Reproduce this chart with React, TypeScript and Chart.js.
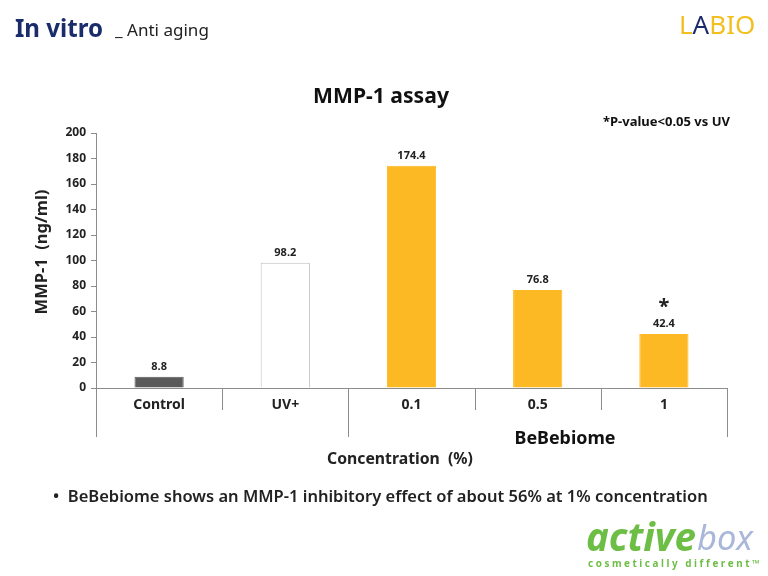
import React, { useEffect, useRef } from "react";
import { Chart, registerables } from "chart.js";

Chart.register(...registerables);

const categories = ["Control", "UV+", "0.1", "0.5", "1"];
const values = [8.8, 98.2, 174.4, 76.8, 42.4];
const valueLabels = ["8.8", "98.2", "174.4", "76.8", "42.4"];
const significant = [false, false, false, false, true];
const barColors = ["#5A5A5A", "#FFFFFF", "#FDB924", "#FDB924", "#FDB924"];
const barBorders = ["#5A5A5A", "#BFBFBF", "#FDB924", "#FDB924", "#FDB924"];
const yMin = 0;
const yMax = 200;
const yStep = 20;
const groupLabel = "BeBebiome";
const groupStart = 2;

const FONT = "'Noto Sans', 'Open Sans', sans-serif";

function fitText(
  ctx: CanvasRenderingContext2D,
  text: string,
  x: number,
  y: number,
  width: number,
  weight: string,
  maxSize: number,
  color: string,
  align: CanvasTextAlign = "left",
  family: string = FONT,
  style: string = ""
) {
  let size = maxSize;
  ctx.font = `${style} ${weight} ${size}px ${family}`;
  const w = ctx.measureText(text).width;
  if (w > 0) size = Math.min(maxSize * 1.3, (size * width) / w);
  ctx.font = `${style} ${weight} ${size}px ${family}`;
  ctx.fillStyle = color;
  ctx.textAlign = align;
  ctx.textBaseline = "middle";
  ctx.fillText(text, x, y);
  return ctx.measureText(text).width;
}

const overlay = {
  id: "overlay",
  beforeDraw(chart: any) {
    const ctx = chart.ctx;
    ctx.save();
    ctx.fillStyle = "#FFFFFF";
    ctx.fillRect(0, 0, chart.width, chart.height);
    ctx.restore();
  },
  afterDraw(chart: any) {
    const ctx: CanvasRenderingContext2D = chart.ctx;
    const xs = chart.scales.x;
    const ys = chart.scales.y;
    const n = categories.length;
    const cw = (xs.right - xs.left) / n;
    ctx.save();

    // category dividers
    ctx.strokeStyle = "#8C8C8C";
    ctx.lineWidth = 1;
    for (let i = 0; i <= n; i++) {
      const bx = Math.round(xs.left + i * cw) + 0.5;
      const long = i === 0 || i === n || i === groupStart;
      ctx.beginPath();
      ctx.moveTo(bx, ys.bottom);
      ctx.lineTo(bx, ys.bottom + (long ? 49 : 22));
      ctx.stroke();
    }

    // value labels
    values.forEach((v, i) => {
      const cx = xs.getPixelForValue(i);
      const top = ys.getPixelForValue(v);
      ctx.font = `bold 11px ${FONT}`;
      ctx.fillStyle = "#222";
      ctx.textAlign = "center";
      ctx.textBaseline = "middle";
      ctx.fillText(valueLabels[i], cx, top - 10);
      if (significant[i]) {
        ctx.font = `bold 20px ${FONT}`;
        ctx.fillText("*", cx, top - 27);
      }
    });

    // group label (sits right of the group's centre in the reference)
    fitText(ctx, groupLabel, 565, ys.bottom + 51, 101, "bold", 16, "#111", "center");

    // x axis title
    fitText(ctx, "Concentration  (%)", 400, ys.bottom + 71, 146, "bold", 15, "#222", "center");

    // y axis title
    ctx.save();
    ctx.translate(42, 252);
    ctx.rotate(-Math.PI / 2);
    fitText(ctx, "MMP-1  (ng/ml)", 0, 0, 125, "bold", 15, "#222", "center");
    ctx.restore();

    // chart title
    fitText(ctx, "MMP-1 assay", 381, 97, 136, "bold", 19, "#111", "center");

    // note
    fitText(ctx, "*P-value<0.05 vs UV", 603, 122, 127, "bold", 12, "#111", "left");

    // header
    fitText(ctx, "In vitro", 15, 30, 88, "bold", 24, "#1B2C6B", "left");
    fitText(ctx, "_ Anti aging", 115, 31, 94, "normal", 16, "#222", "left");

    // LABIO logo
    ctx.font = `normal 26px ${FONT}`;
    ctx.textBaseline = "middle";
    ctx.textAlign = "left";
    let lx = 679;
    const parts: [string, string][] = [["L", "#F2BF1E"], ["A", "#1B2C6B"], ["BIO", "#F2BF1E"]];
    parts.forEach(([t, c]) => {
      ctx.fillStyle = c;
      ctx.fillText(t, lx, 27);
      lx += ctx.measureText(t).width;
    });

    // bullet
    fitText(
      ctx,
      "•  BeBebiome shows an MMP-1 inhibitory effect of about 56% at 1% concentration",
      53,
      497,
      655,
      "600",
      16,
      "#222",
      "left"
    );

    // activebox logo
    const w1 = fitText(ctx, "active", 586, 540, 110, "bold", 36, "#6CBE45", "left", FONT, "italic");
    fitText(ctx, "box", 586 + w1 + 1, 540, 56, "normal", 36, "#A9B7D9", "left", FONT, "italic");
    fitText(ctx, "c o s m e t i c a l l y   d i f f e r e n t ™", 588, 564, 172, "bold", 9, "#6CBE45", "left");

    ctx.restore();
  },
};

export default function App() {
  const ref = useRef<HTMLCanvasElement | null>(null);
  useEffect(() => {
    if (!ref.current) return;
    const chart = new Chart(ref.current, {
      type: "bar",
      data: {
        labels: categories,
        datasets: [
          {
            data: values,
            backgroundColor: barColors,
            borderColor: barBorders,
            borderWidth: 1,
            categoryPercentage: 1,
            barPercentage: 0.39,
          },
        ],
      },
      options: {
        animation: false,
        responsive: false,
        maintainAspectRatio: false,
        layout: { padding: { left: 0, right: 41, top: 133, bottom: 0 } },
        plugins: { legend: { display: false }, tooltip: { enabled: false }, title: { display: false } },
        scales: {
          x: {
            offset: true,
            grid: { display: false, drawTicks: false },
            border: { display: true, color: "#8C8C8C" },
            ticks: {
              color: "#222",
              font: { family: FONT, size: 14, weight: "bold" },
              padding: 9,
              maxRotation: 0,
            },
            afterFit: (s: any) => {
              s.height = 188;
            },
          },
          y: {
            min: yMin,
            max: yMax,
            grid: { drawOnChartArea: false, drawTicks: true, tickLength: 5, color: "#8C8C8C" },
            border: { display: true, color: "#8C8C8C" },
            ticks: {
              stepSize: yStep,
              color: "#222",
              font: { family: FONT, size: 12, weight: "bold" },
              padding: 5,
            },
            afterFit: (s: any) => {
              s.width = 96;
            },
          },
        },
      },
      plugins: [overlay],
    });
    return () => chart.destroy();
  }, []);
  return (
    <div style={{ position: "fixed", left: 0, top: 0, width: 768, height: 576, background: "#fff" }}>
      <canvas ref={ref} width={768} height={576} style={{ width: 768, height: 576 }} />
    </div>
  );
}
